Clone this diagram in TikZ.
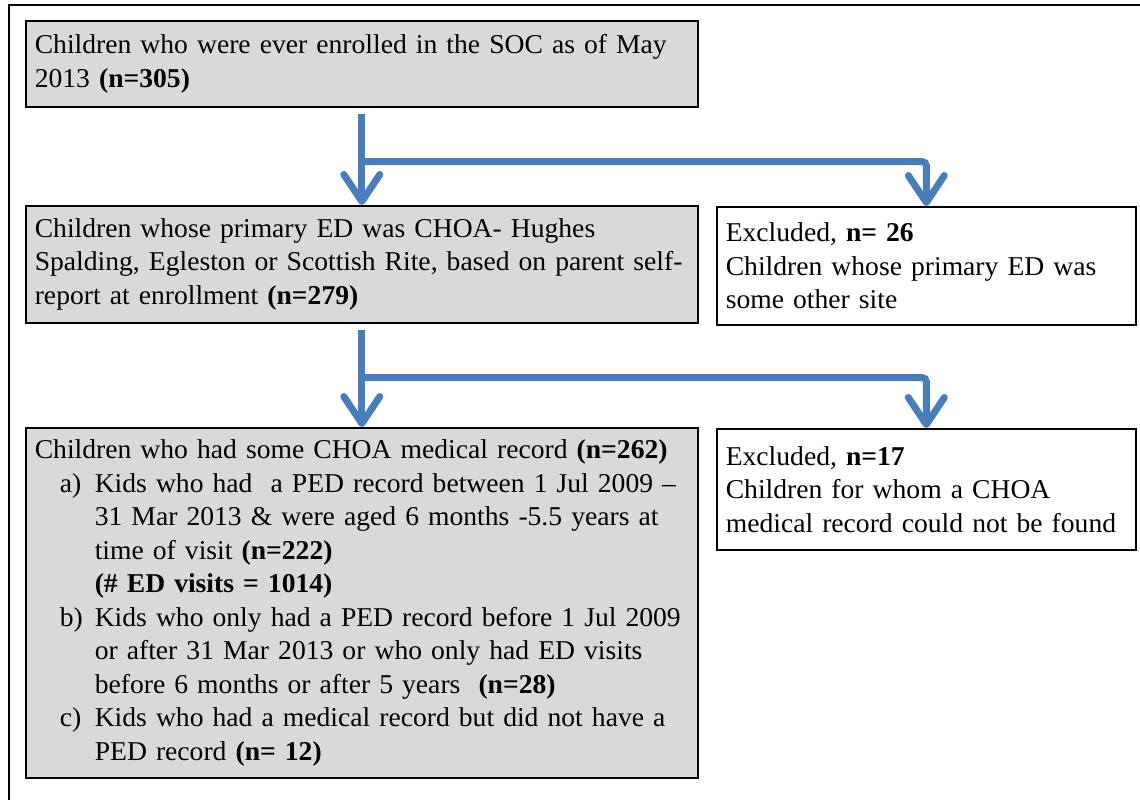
\documentclass[tikz,border=0pt]{standalone}
\usepackage{fontspec}
\setmainfont[FakeStretch=1.015]{Liberation Serif}
\usetikzlibrary{arrows.meta}

\definecolor{boxgray}{RGB}{217,217,217}
\definecolor{flowblue}{RGB}{74,126,187}

\tikzset{
  stage/.style={draw, line width=1.6pt, fill=boxgray, anchor=north west,
    inner xsep=9pt, inner ysep=0pt, align=left, text width=654pt,
    font=\fontsize{27.2}{33.5}\selectfont},
  excl/.style={stage, fill=white, text width=401pt},
  flow/.style={draw=flowblue, line width=7pt, rounded corners=4pt,
    -{Straight Barb[length=27pt,width=36pt,round]}}
}

\begin{document}
\begin{tikzpicture}[x=1pt,y=-1pt]
\useasboundingbox (0,0) rectangle (1140,800);
\draw[line width=2pt] (1140,5) -- (9,5) -- (9,800);

\node [stage, minimum height=86pt] (box1) at (25,20)
  {Children who were ever enrolled in the SOC as of May\\
   2013 \textbf{(n=305)}};
\node [stage, minimum height=117pt] (box2) at (25,205)
  {Children whose primary ED was CHOA- Hughes\\
   Spalding, Egleston or Scottish Rite, based on parent self-\\
   report at enrollment \textbf{(n=279)}};
\node [excl, minimum height=118pt] (excl1) at (716,206)
  {Excluded, \textbf{n= 26}\\
   Children whose primary ED was\\
   some other site};
\node [stage, minimum height=350pt] (box3) at (25,427)
  {Children who had some CHOA medical record \textbf{(n=262)}\\
   \hspace*{25pt}\makebox[35pt][l]{a)}Kids who had\ \ a PED record between 1 Jul 2009 --\\
   \hspace*{60pt}31 Mar 2013 \& were aged 6 months -5.5 years at\\
   \hspace*{60pt}time of visit \textbf{(n=222)}\\
   \hspace*{60pt}\textbf{(\# ED visits = 1014)}\\
   \hspace*{25pt}\makebox[35pt][l]{b)}Kids who only had a PED record before 1 Jul 2009\\
   \hspace*{60pt}or after 31 Mar 2013 or who only had ED visits\\
   \hspace*{60pt}before 6 months or after 5 years\ \ \textbf{(n=28)}\\
   \hspace*{25pt}\makebox[35pt][l]{c)}Kids who had a medical record but did not have a\\
   \hspace*{60pt}PED record \textbf{(n= 12)}};
\node [excl, minimum height=121pt] (excl3) at (716,428)
  {Excluded, \textbf{n=17}\\
   Children for whom a CHOA\\
   medical record could not be found};

\foreach \from/\to/\out in {box1/box2/excl1, box2/box3/excl3} {
  \draw[flow] ([yshift=-6pt]\from.south) -- (\to.north);
  \draw[flow] ([yshift=-54pt]\from.south) -| (\out.north);
}
\end{tikzpicture}
\end{document}
